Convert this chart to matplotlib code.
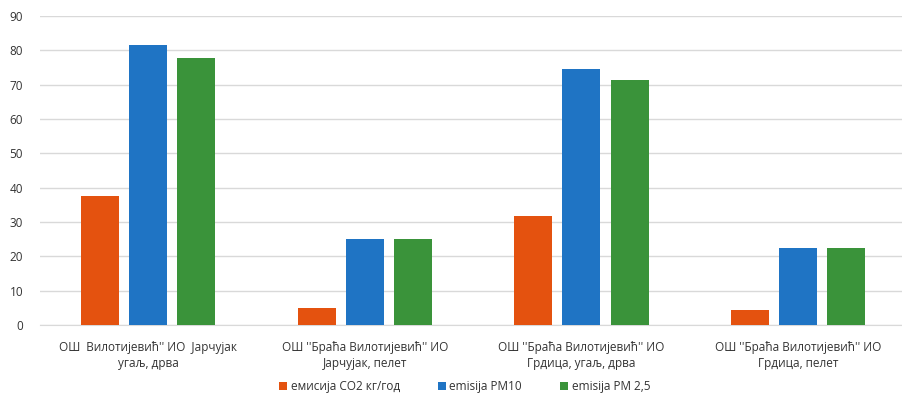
import matplotlib.pyplot as plt
import numpy as np

plt.rcParams['font.family'] = ['Open Sans', 'DejaVu Sans']

categories = [
    "ОШ  Вилотијевић'' ИО  Јарчујак\nугаљ, дрва",
    "ОШ ''Браћа Вилотијевић'' ИО\nЈарчујак, пелет",
    "ОШ ''Браћа Вилотијевић'' ИО\nГрдица, угаљ, дрва",
    "ОШ ''Браћа Вилотијевић'' ИО\nГрдица, пелет",
]
series_names = ["емисија CO2 кг/год", "emisija PM10", "emisija PM 2,5"]
co2 = [37.6, 5.0, 31.8, 4.4]
pm10 = [81.6, 24.9, 74.6, 22.4]
pm25 = [77.8, 24.9, 71.4, 22.4]
y_ticks = [0, 10, 20, 30, 40, 50, 60, 70, 80, 90]

colors = ["#E4520F", "#1F74C4", "#3A933A"]

fig = plt.figure(figsize=(9.02, 4.04), dpi=100)
ax = fig.add_axes([0.044, 0.196, 0.961, 0.764])

x = np.arange(len(categories))
w = 0.175
step = 0.222
for i, (vals, name, c) in enumerate(zip([co2, pm10, pm25], series_names, colors)):
    ax.bar(x + (i - 1) * step, vals, w, color=c, label=name, zorder=3)

ax.set_xlim(-0.5, len(categories) - 0.5)
ax.set_ylim(0, 90)
ax.set_yticks(y_ticks)
ax.yaxis.grid(True, color="#D9D9D9", linewidth=1, zorder=0)
for s in ["top", "right", "left"]:
    ax.spines[s].set_visible(False)
ax.spines["bottom"].set_color("#D9D9D9")
ax.tick_params(axis="y", length=0, labelsize=8.5, labelcolor="#333333", pad=12)
ax.tick_params(axis="x", length=0, labelsize=8.5, labelcolor="#333333", pad=12)
ax.set_xticks(x)
ax.set_xticklabels(categories, linespacing=1.3)

fig.legend(loc="lower center", bbox_to_anchor=(0.515, 0.0), ncol=3, frameon=False,
           fontsize=8.5, handlelength=0.7, handleheight=0.7, handletextpad=0.3,
           columnspacing=3.2, labelcolor="#333333")

fig.savefig("out.png", dpi=100)
